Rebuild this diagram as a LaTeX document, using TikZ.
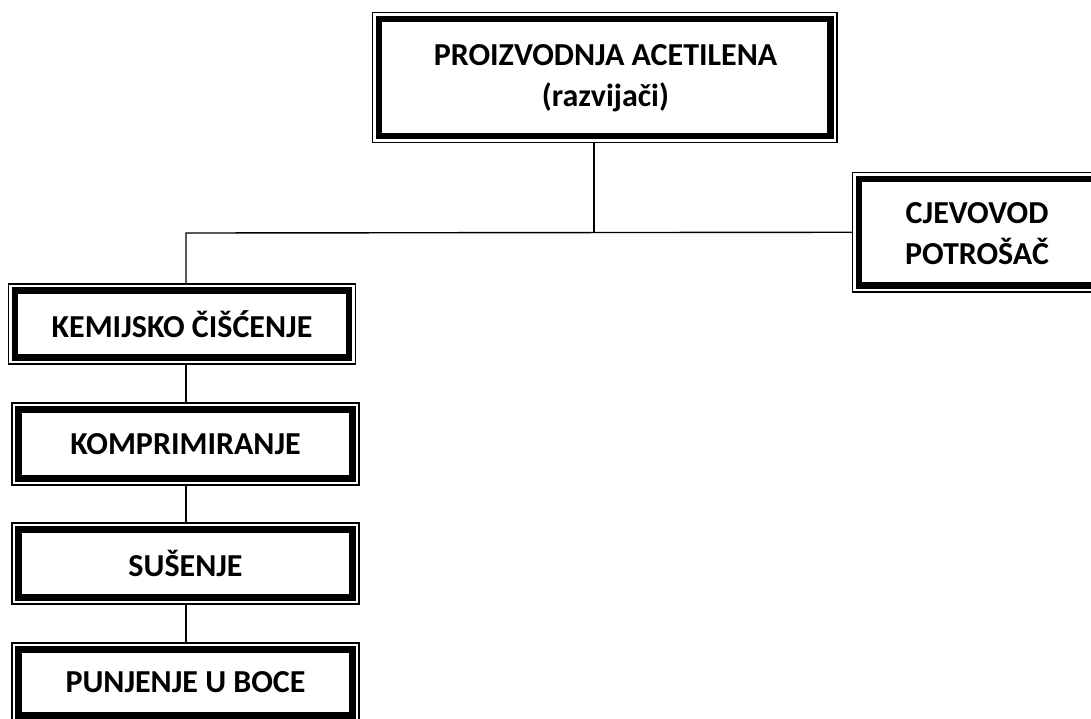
\documentclass[tikz,border=0pt]{standalone}
\usepackage{fontspec}
\setmainfont{Carlito}
\begin{document}
\begin{tikzpicture}[x=1pt,y=-1pt,
  frame/.style={draw, line width=1.3pt, inner sep=0pt},
  label/.style={font=\fontsize{32}{41}\selectfont\bfseries, align=center, inner sep=0pt},
  thickframe/.style={line width=6.5pt},
  conn/.style={line width=1.4pt}]
\useasboundingbox (0,0) rectangle (1091,718);
\clip (0,0) rectangle (1091,718);
% boxes (outer thin frame)
\node[frame, minimum width=464.5pt, minimum height=130pt] (top) at (604.75,77.5) {};
\node[frame, minimum width=260pt, minimum height=119.5pt] (cjev) at (982.5,232.25) {};
\node[frame, minimum width=347pt, minimum height=80pt] (kem) at (182,324) {};
\node[frame, minimum width=347pt, minimum height=82pt] (komp) at (185.5,444) {};
\node[frame, minimum width=347pt, minimum height=81pt] (sus) at (185.5,563.5) {};
\node[frame, minimum width=347pt, minimum height=79pt] (punj) at (185.5,682.5) {};
% inner thick frames
\foreach \n in {top,cjev,kem,komp,sus,punj}{
  \draw[thickframe] ([xshift=7pt,yshift=-7pt]\n.north west) rectangle ([xshift=-7pt,yshift=7pt]\n.south east);
}
% texts
\node[label] (topT) at (605.5,78) {PROIZVODNJA ACETILENA\\(razvijači)};
\node[label] (cjevT) at (977,234) {CJEVOVOD\\POTROŠAČ};
\node[label] (kemT) at (kem) {KEMIJSKO ČIŠĆENJE};
\node[label] (kompT) at (komp) {KOMPRIMIRANJE};
\node[label] (susT) at (sus) {SUŠENJE};
\node[label] (punjT) at (punj) {PUNJENJE U BOCE};
% connectors
\coordinate (j) at (594,233);
\coordinate (l) at (186,233);
\draw[conn] (top.south -| j) -- (j);
\draw[conn] (kem.north -| l) -- (l) -- (cjev.west);
\draw[conn] (kem.south -| l) -- (komp.north -| l);
\draw[conn] (komp.south -| l) -- (sus.north -| l);
\draw[conn] (sus.south -| l) -- (punj.north -| l);
\end{tikzpicture}
\end{document}
